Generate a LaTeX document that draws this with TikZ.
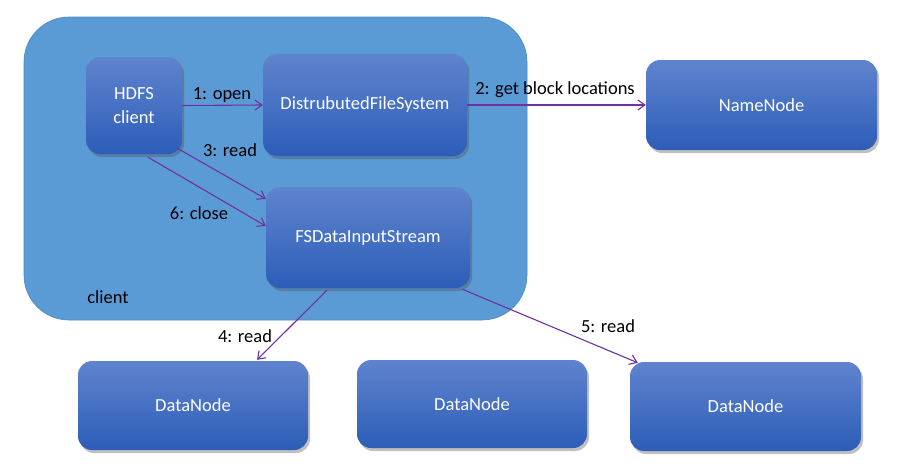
\documentclass[tikz,border=0pt]{standalone}
\usepackage{fontspec}
\setmainfont{Carlito}
\usetikzlibrary{shadows,arrows.meta,calc}
\definecolor{clientblue}{HTML}{5B9BD5}
\definecolor{clientedge}{HTML}{4A88C2}
\definecolor{boxtop}{HTML}{5F84CE}
\definecolor{boxbot}{HTML}{2D5DB8}
\definecolor{arrowpurple}{HTML}{7030A0}
\tikzset{
  bluebox/.style={rounded corners=14pt, top color=boxtop, bottom color=boxbot,
    draw=none, text=white, align=center, inner sep=0pt,
    font=\fontsize{18.5}{24}\selectfont,
    drop shadow={shadow xshift=2pt, shadow yshift=-3pt, opacity=0.35, fill=black!70}},
  flow/.style={draw=arrowpurple, line width=1.1pt, -{Straight Barb[length=7pt,width=10pt,line width=1.1pt]}},
  lbl/.style={text=black, font=\fontsize{18.5}{22}\selectfont, inner sep=0pt}
}
\begin{document}
\begin{tikzpicture}[x=1pt,y=-1pt]
\useasboundingbox (0,0) rectangle (899,472);
\fill[white] (0,0) rectangle (899,472);
\node[rounded corners=45pt, fill=clientblue, draw=clientedge, line width=0.6pt,
  minimum width=503pt, minimum height=303pt] (client) at (275.5,168.5) {};
\node[lbl] (clientlbl) at (108,297) {client};
\node[bluebox, minimum width=96pt, minimum height=97pt] (hdfs) at (134,105.5) {HDFS\\client};
\node[bluebox, minimum width=204pt, minimum height=102pt] (dfs) at (365,105) {DistrubutedFileSystem};
\node[bluebox, minimum width=231pt, minimum height=90pt] (nn) at (761.5,105) {NameNode};
\node[bluebox, minimum width=204pt, minimum height=101pt] (fsd) at (368,237.5) {FSDataInputStream};
\node[bluebox, minimum width=230pt, minimum height=89pt] (dn1) at (193,405.5) {DataNode};
\node[bluebox, minimum width=230pt, minimum height=88pt] (dn2) at (472,404) {DataNode};
\node[bluebox, minimum width=231pt, minimum height=89pt] (dn3) at (745.5,406.5) {DataNode};
% connectors
\draw[flow] (hdfs.east) -- (dfs.west);
\draw[flow] (dfs.east) -- (nn.west);
\draw[flow] ($(hdfs.south east)+(-5,-6)$) -- ($(fsd.north west)+(0,12)$);
\draw[flow] ($(hdfs.south)+(14,3)$) -- ($(fsd.west)+(0,-11.5)$);
\draw[flow] ($(fsd.south)+(-41,2)$) -- ($(dn1.north)+(64,-1)$);
\draw[flow] ($(fsd.south east)+(-8,1)$) -- ($(dn3.north west)+(8,1)$);
% labels
\node[lbl] (l1) at (222,95) {1: open};
\node[lbl] (l2) at (555,90) {2: get block locations};
\node[lbl] (l3) at (230,150) {3: read};
\node[lbl] (l6) at (199,213) {6: close};
\node[lbl] (l4) at (245,336) {4: read};
\node[lbl] (l5) at (608,326) {5: read};
\end{tikzpicture}
\end{document}
